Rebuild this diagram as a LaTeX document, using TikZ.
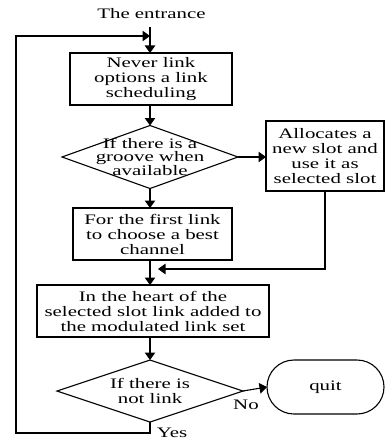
\documentclass[tikz,border=0pt]{standalone}
\usepackage{fontspec}
\setmainfont{Liberation Serif}[FakeStretch=1.44]
\usetikzlibrary{arrows.meta,shapes.geometric,shapes.misc}

\begin{document}
\begin{tikzpicture}[x=1pt,y=-1pt,
  font=\fontsize{14.5}{15}\selectfont,
  every node/.style={inner sep=0pt, outer sep=0pt},
  line width=1.1pt,
  box/.style={draw, align=center},
  dia/.style={draw, diamond},
  term/.style={draw, rounded rectangle},
  arr/.style={-{Triangle[length=7.5pt,width=10.5pt]}},
]
\useasboundingbox (0,0) rectangle (385,441);

% title above the flow
\node (entr) at (151.5,13.5) {The entrance};
\coordinate (in) at (150,27);

% process boxes
\node[box, minimum width=162pt, minimum height=52pt] (b1) at (151,79)
  {Never link\\options a link\\scheduling};
\node[dia, minimum width=176pt, minimum height=63pt,
  label={[align=center, font=\fontsize{14.5}{13}\selectfont]center:If there is a\\groove when\\available}]
  (d1) at (150,157) {};
\node[box, minimum width=118pt, minimum height=70pt] (r) at (325,156)
  {Allocates a\\new slot and\\use it as\\selected slot};
\node[box, minimum width=159pt, minimum height=52pt] (b2) at (152.5,234)
  {For the first link\\to choose a best\\channel};
\node[box, minimum width=232pt, minimum height=52pt] (b3) at (153,311)
  {In the heart of the\\selected slot link added to\\the modulated link set};
\node[dia, minimum width=186pt, minimum height=62pt,
  label={[align=center]center:If there is\\not link}]
  (d2) at (150,391) {};
\node[term, minimum width=117pt, minimum height=54pt] (q) at (325.5,387) {quit};

% branch labels
\node (no) at (246,405) {No};
\node (yeslbl) at (172,433) {Yes};

% loop-back and return points
\coordinate (yes) at (150,433);
\coordinate (lb) at (16,433);
\coordinate (lt) at (16,36);
\coordinate (join) at (150,36);
\coordinate (ret) at (158,269);

% connectors
\draw[arr] (in) -- (b1.north -| in);
\draw[arr] (b1.south -| d1) -- (d1.north);
\draw[arr] (d1.east) -- (d1.east -| r.west);
\draw[arr] (d1.south) -- (b2.north -| d1);
\draw[arr] (r.south) |- (ret);
\draw[arr] (b2.south -| d1) -- (b3.north -| d1);
\draw[arr] (b3.south -| d2) -- (d2.north);
\draw[arr] (d2.east) -- (q.west);
\draw[arr] (d2.south) -- (yes) -- (lb) -- (lt) -- (join);
\end{tikzpicture}
\end{document}
